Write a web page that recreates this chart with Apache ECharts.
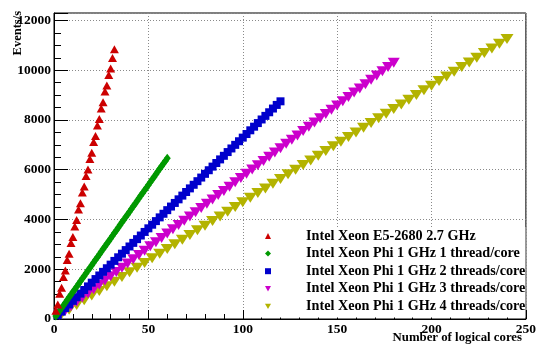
<!DOCTYPE html>
<html>
<head>
<meta charset="utf-8">
<script src="https://cdn.jsdelivr.net/npm/echarts@6/dist/echarts.min.js"></script>
<style>
html,body{margin:0;padding:0;background:#fff;}
#chart{width:539px;height:346px;}
</style>
</head>
<body>
<div id="chart"></div>
<script>
// ---- data ----
const seriesNames = [
  'Intel Xeon E5-2680 2.7 GHz',
  'Intel Xeon Phi 1 GHz 1 thread/core',
  'Intel Xeon Phi 1 GHz 2 threads/core',
  'Intel Xeon Phi 1 GHz 3 threads/core',
  'Intel Xeon Phi 1 GHz 4 threads/core'
];
const xeonCores = [1,2,3,4,5,6,7,8,9,10,11,12,13,14,15,16,17,18,19,20,21,22,23,24,25,26,27,28,29,30,31,32];
const xeonEvents = [330,580,1010,1260,1690,1950,2370,2620,3050,3300,3720,3980,4400,4650,5080,5330,5750,6010,6430,6680,7110,7360,7780,8040,8460,8710,9140,9390,9810,10070,10490,10840];

const phi1Cores = [1,2,3,4,5,6,7,8,9,10,11,12,13,14,15,16,17,18,19,20,21,22,23,24,25,26,27,28,29,30,31,32,33,34,35,36,37,38,39,40,41,42,43,44,45,46,47,48,49,50,51,52,53,54,55,56,57,58,59,60];
const phi1Events = [120,225,330,440,545,655,760,870,975,1085,1190,1300,1410,1515,1625,1730,1840,1945,2055,2160,2270,2380,2485,2595,2700,2810,2915,3025,3130,3240,3345,3455,3560,3670,3775,3885,3990,4100,4205,4315,4420,4530,4635,4745,4850,4960,5065,5175,5280,5390,5495,5605,5710,5820,5925,6035,6140,6250,6355,6465];

const phi2Cores = [2,4,6,8,10,12,14,16,18,20,22,24,26,28,30,32,34,36,38,40,42,44,46,48,50,52,54,56,58,60,62,64,66,68,70,72,74,76,78,80,82,84,86,88,90,92,94,96,98,100,102,104,106,108,110,112,114,116,118,120];
const phi2Events = [150,295,440,585,730,875,1020,1165,1310,1460,1605,1750,1895,2040,2185,2335,2480,2625,2770,2915,3060,3210,3355,3500,3645,3790,3935,4085,4230,4375,4520,4665,4810,4960,5105,5250,5395,5540,5685,5835,5980,6125,6270,6415,6560,6710,6855,7000,7145,7290,7435,7585,7730,7875,8020,8165,8310,8460,8605,8750];

const phi3Cores = [3,6,9,12,15,18,21,24,27,30,33,36,39,42,45,48,51,54,57,60,63,66,69,72,75,78,81,84,87,90,93,96,99,102,105,108,111,114,117,120,123,126,129,132,135,138,141,144,147,150,153,156,159,162,165,168,171,174,177,180];
const phi3Events = [175,345,515,690,860,1030,1200,1375,1545,1715,1890,2060,2230,2405,2575,2745,2920,3090,3260,3435,3605,3775,3950,4120,4290,4465,4635,4805,4980,5150,5320,5495,5665,5835,6010,6180,6350,6525,6695,6865,7040,7210,7380,7555,7725,7895,8070,8240,8410,8585,8755,8925,9100,9270,9440,9615,9785,9955,10130,10300];

const phi4Cores = [4,8,12,16,20,24,28,32,36,40,44,48,52,56,60,64,68,72,76,80,84,88,92,96,100,104,108,112,116,120,124,128,132,136,140,144,148,152,156,160,164,168,172,176,180,184,188,192,196,200,204,208,212,216,220,224,228,232,236,240];
const phi4Events = [190,375,565,750,940,1125,1315,1500,1690,1875,2065,2250,2440,2625,2815,3000,3190,3375,3565,3750,3940,4125,4315,4500,4690,4875,5065,5250,5440,5625,5815,6000,6190,6375,6565,6750,6940,7125,7315,7500,7690,7875,8065,8250,8440,8625,8815,9000,9190,9375,9565,9750,9940,10125,10315,10500,10690,10875,11065,11250];

const xAxisTitle = 'Number of logical cores';
const yAxisTitle = 'Events/s';

// ---- chart ----
const FONT = '"Liberation Serif", "Times New Roman", serif';
const pairs = (xs, ys) => xs.map((x, i) => [x, ys[i]]);
const colors = ['#cc0000', '#009900', '#0000cc', '#cc00cc', '#b3b300'];
const DOWN_TRI = 'path://M0,0 L10,0 L5,9 Z';

const chart = echarts.init(document.getElementById('chart'), null, {renderer: 'canvas'});
const gridLine = {show: true, lineStyle: {color: '#8a8a8a', type: [1, 2], width: 1}};
chart.setOption({
  animation: false,
  backgroundColor: '#ffffff',
  grid: {left: 54, right: 11, top: 13, bottom: 27, show: true, borderColor: '#000', borderWidth: 1, backgroundColor: 'transparent'},
  xAxis: {
    type: 'value', min: 0, max: 250, interval: 50,
    axisLine: {show: true, onZero: false, lineStyle: {color: '#000', width: 1}},
    axisTick: {show: true, inside: true, length: 9, lineStyle: {color: '#000'}},
    minorTick: {show: true, splitNumber: 5, length: 5, lineStyle: {color: '#000'}},
    splitLine: gridLine,
    axisLabel: {color: '#000', fontFamily: FONT, fontWeight: 'bold', fontSize: 13.5, margin: 4}
  },
  yAxis: {
    type: 'value', min: 0, max: 12300, interval: 2000,
    axisLine: {show: true, onZero: false, lineStyle: {color: '#000', width: 1}},
    axisTick: {show: true, inside: true, length: 14, lineStyle: {color: '#000'}},
    minorTick: {show: true, splitNumber: 4, length: 7, lineStyle: {color: '#000'}},
    splitLine: gridLine,
    axisLabel: {color: '#000', fontFamily: FONT, fontWeight: 'bold', fontSize: 13.5, margin: 3, showMaxLabel: false,
                formatter: v => String(v)}
  },
  legend: {
    orient: 'vertical',
    left: 254, top: 227,
    backgroundColor: '#ffffff',
    padding: [2, 0, 4, 11],
    itemWidth: 6, itemHeight: 6, itemGap: 3.6,
    textStyle: {color: '#000', fontFamily: FONT, fontWeight: 'bold', fontSize: 14.2, lineHeight: 13, padding: [0, 0, 0, 30]},
    data: seriesNames
  },
  graphic: [
    {type: 'text', x: 18, y: 11, rotation: Math.PI / 2,
     style: {text: yAxisTitle, font: 'bold 12.5px ' + FONT, fill: '#000', align: 'right', verticalAlign: 'middle'}},
    {type: 'text', x: 522, y: 338,
     style: {text: xAxisTitle, font: 'bold 12.8px ' + FONT, fill: '#000', align: 'right', verticalAlign: 'middle'}}
  ],
  series: [
    {name: seriesNames[0], type: 'scatter', data: pairs(xeonCores, xeonEvents), symbol: 'triangle', symbolSize: [9, 8], itemStyle: {color: colors[0], opacity: 1}, z: 6},
    {name: seriesNames[1], type: 'scatter', data: pairs(phi1Cores, phi1Events), symbol: 'diamond', symbolSize: [7, 9], itemStyle: {color: colors[1], opacity: 1}, z: 5},
    {name: seriesNames[2], type: 'scatter', data: pairs(phi2Cores, phi2Events), symbol: 'rect', symbolSize: 8, itemStyle: {color: colors[2], opacity: 1}, z: 4},
    {name: seriesNames[3], type: 'scatter', data: pairs(phi3Cores, phi3Events), symbol: DOWN_TRI, symbolKeepAspect: false, symbolSize: [12, 10], itemStyle: {color: colors[3], opacity: 1}, z: 3},
    {name: seriesNames[4], type: 'scatter', data: pairs(phi4Cores, phi4Events), symbol: DOWN_TRI, symbolKeepAspect: false, symbolSize: [13, 10], itemStyle: {color: colors[4], opacity: 1}, z: 2}
  ]
});
</script>
</body>
</html>
